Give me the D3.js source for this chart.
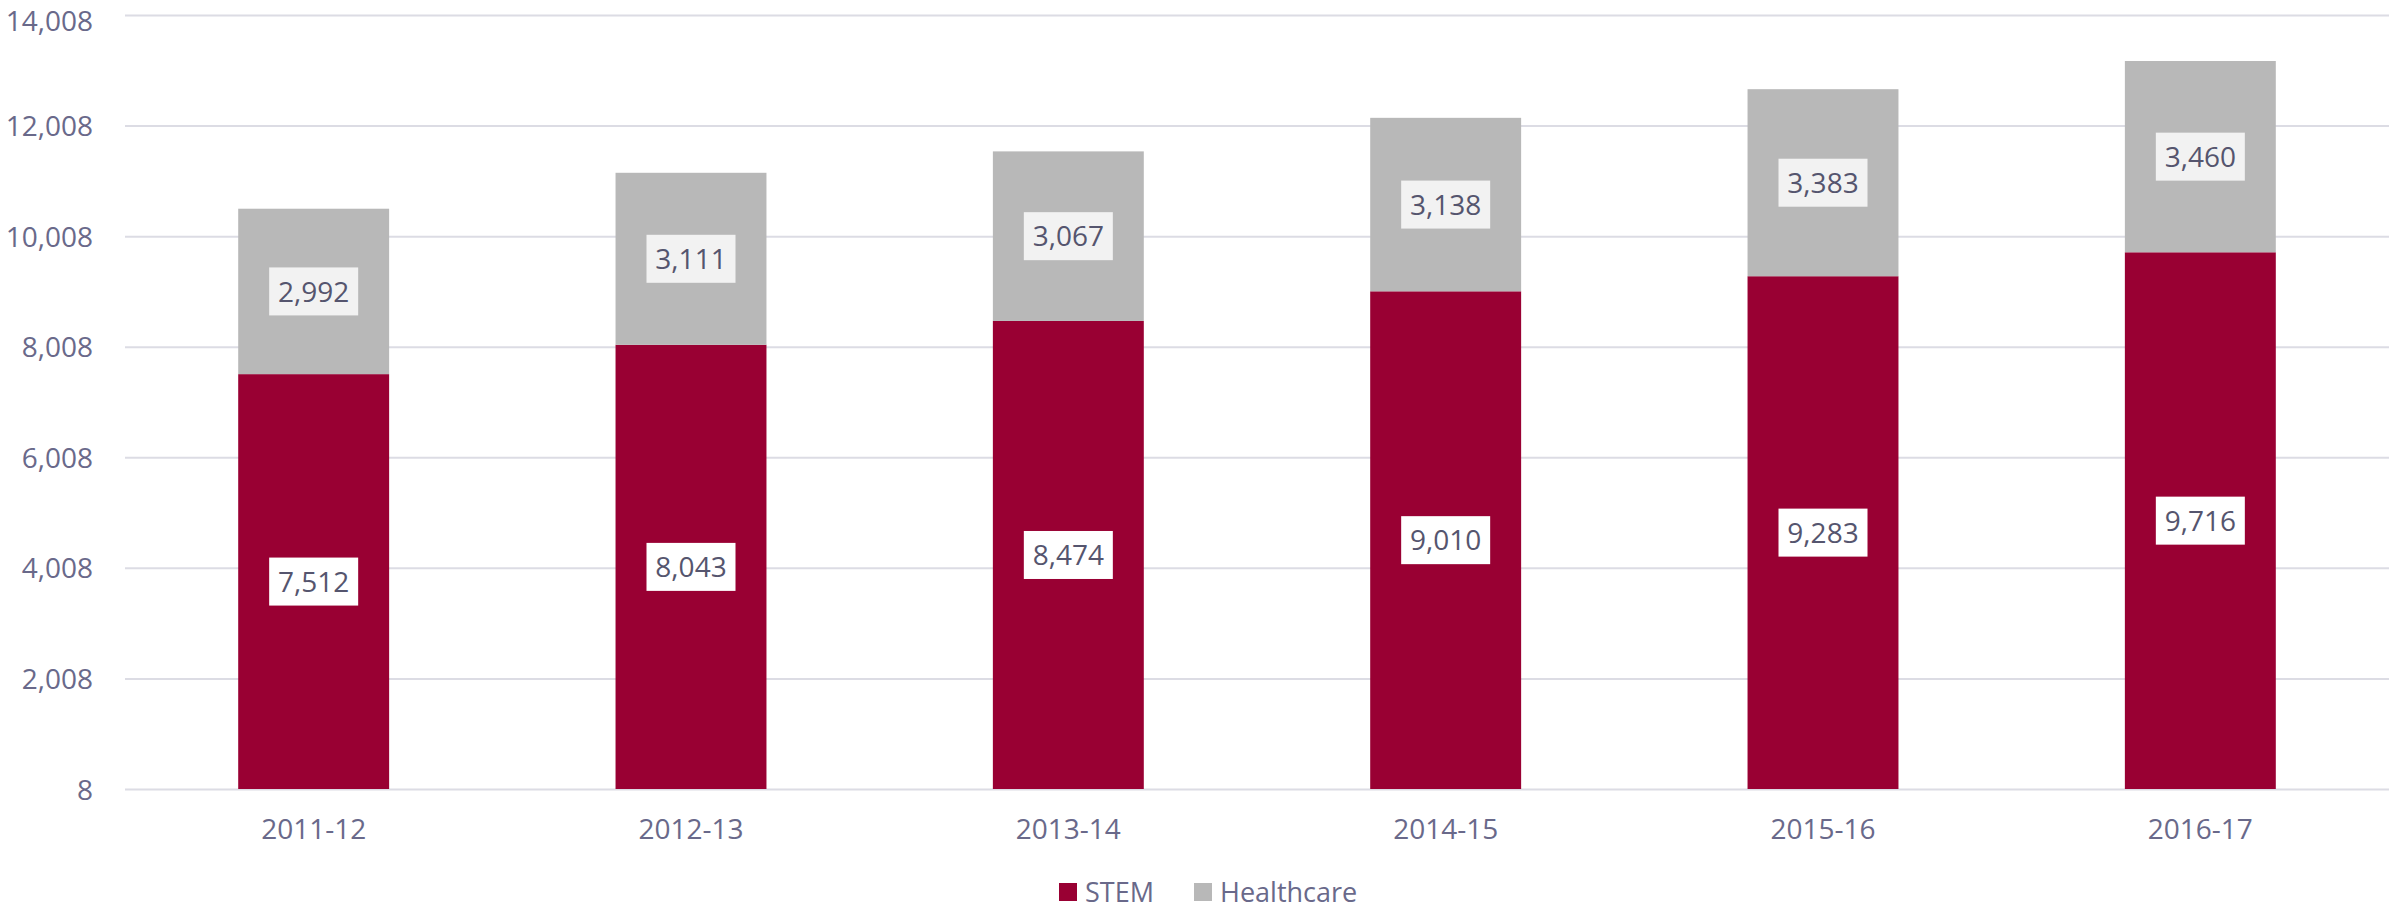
<!DOCTYPE html>
<html>
<head>
<meta charset="utf-8">
<script src="https://cdn.jsdelivr.net/npm/d3@7"></script>
<style>
html,body{margin:0;padding:0;background:#fff;}
svg{display:block;font-family:"Open Sans",sans-serif;}
</style>
</head>
<body>
<svg id="chart" width="2389" height="909"></svg>
<script>
const categories = ["2011-12","2012-13","2013-14","2014-15","2015-16","2016-17"];
const stem = [7512,8043,8474,9010,9283,9716];
const healthcare = [2992,3111,3067,3138,3383,3460];
const yTicks = [8,2008,4008,6008,8008,10008,12008,14008];
const seriesNames = ["STEM","Healthcare"];
const colors = ["#990033","#b8b8b8"];
const labelFills = ["#ffffff","#f2f2f2"];

const svg = d3.select("#chart");
const W = 2389, H = 909;
const m = {left:125, right:0, top:15, bottom:120};
const x = d3.scaleBand().domain(categories).range([m.left, W - m.right]).paddingInner(0.6).paddingOuter(0.3);
const y = d3.scaleLinear().domain([8,14008]).range([789,15]).clamp(true);

const rows = categories.map((c,i)=>({cat:c, STEM:stem[i], Healthcare:healthcare[i]}));
const stacked = d3.stack().keys(seriesNames)(rows);

// gridlines
const yAxis = d3.axisLeft(y).tickValues(yTicks).tickSize(-(W - m.left - m.right)).tickFormat(d3.format(","));
const gy = svg.append("g").attr("transform",`translate(${m.left},0)`).call(yAxis);
gy.select(".domain").remove();
gy.selectAll(".tick line").attr("stroke","#dcdce4").attr("stroke-width",2);
gy.selectAll(".tick text").attr("x",-32).attr("dy","0.36em").attr("fill","#69698a").attr("font-size","28px").attr("font-family","Open Sans")
  .attr("y",(d)=> y(d) - 30 < 0 ? 5 : 0);

// bars
stacked.forEach((s,si)=>{
  svg.append("g").selectAll("rect").data(s).join("rect")
    .attr("x",d=>x(d.data.cat))
    .attr("width",x.bandwidth())
    .attr("y",d=>y(d[1]))
    .attr("height",d=>y(d[0])-y(d[1]))
    .attr("fill",colors[si]);
});

// data labels
stacked.forEach((s,si)=>{
  const g = svg.append("g").selectAll("g").data(s).join("g")
    .attr("transform",d=>`translate(${x(d.data.cat)+x.bandwidth()/2},${(y(d[0])+y(d[1]))/2})`);
  g.append("rect").attr("x",-44.5).attr("y",-24).attr("width",89).attr("height",48).attr("fill",labelFills[si]);
  g.append("text").attr("text-anchor","middle").attr("dy","0.36em")
    .attr("font-size","28px").attr("fill","#55556e")
    .text(d=>d3.format(",")(d[1]-d[0]));
});

// x axis labels
const xAxis = d3.axisBottom(x).tickSize(0).tickPadding(0);
const gx = svg.append("g").attr("transform",`translate(0,789)`).call(xAxis);
gx.select(".domain").remove();
gx.selectAll(".tick text").attr("y",30).attr("dy","0.71em").attr("fill","#69698a").attr("font-size","28px").attr("font-family","Open Sans");

// legend
const legendX = [1059,1194];
const lg = svg.append("g").selectAll("g").data(seriesNames).join("g")
  .attr("transform",(d,i)=>`translate(${legendX[i]},883)`);
lg.append("rect").attr("width",18).attr("height",18).attr("fill",(d,i)=>colors[i]);
lg.append("text").attr("x",26).attr("y",9).attr("dy","0.36em").attr("font-size","27px").attr("fill","#69698a").text(d=>d);
</script>
</body>
</html>
